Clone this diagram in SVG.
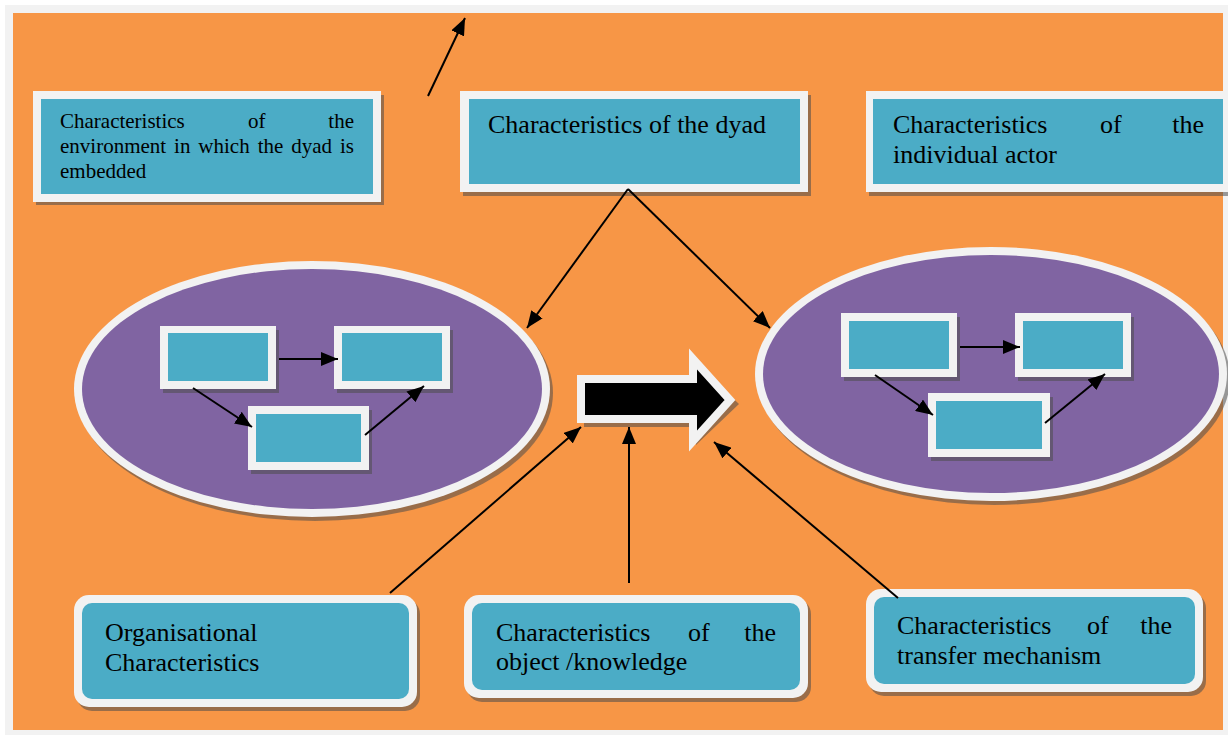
<svg xmlns="http://www.w3.org/2000/svg" width="1228" height="735" viewBox="0 0 1228 735">
<defs>
<marker id="ah" markerUnits="userSpaceOnUse" markerWidth="17" markerHeight="14" refX="17" refY="7" orient="auto">
<path d="M0,0 L17,7 L0,14 Z" fill="#000"/>
</marker>
<style>
.frame{fill:#f2f2f2}
.bg{fill:#f79646}
.sh{fill:#4d4d4d;opacity:0.55}
.wb{fill:#f2f2f2}
.tl{fill:#4bacc6}
.pu{fill:#8064a2}
.t{font-family:"Liberation Serif","Times New Roman",serif;fill:#000}
.c{stroke:#000;stroke-width:2;fill:none;marker-end:url(#ah)}
</style>
</defs>
<rect x="0" y="0" width="1228" height="735" fill="#ffffff"/>
<rect class="frame" x="5" y="5" width="1223" height="730"/>
<rect class="bg" x="13" y="13" width="1210" height="717"/>

<g id="env">
<rect class="sh" x="36" y="95" width="348" height="110"/>
<rect class="wb" x="33" y="91" width="348" height="111"/>
<rect class="tl" x="41" y="99" width="332" height="95"/>
<text class="t" font-size="21" y="128"><tspan x="60">Characteristics</tspan><tspan x="248">of</tspan><tspan x="354" text-anchor="end">the</tspan></text>
<text class="t" font-size="21" x="60" y="153" word-spacing="2.7">environment in which the dyad is</text>
<text class="t" font-size="21" x="60" y="178">embedded</text>
</g>

<g id="dyad">
<rect class="sh" x="463" y="95" width="348" height="101"/>
<rect class="wb" x="460" y="91" width="348" height="101"/>
<rect class="tl" x="469" y="99" width="331" height="85"/>
<text class="t" font-size="26" x="488" y="133">Characteristics of the dyad</text>
</g>

<g id="actor">
<rect class="sh" x="869" y="95" width="362" height="101"/>
<rect class="wb" x="866" y="91" width="362" height="101"/>
<rect class="tl" x="873" y="99" width="350" height="85"/>
<text class="t" font-size="26" y="133"><tspan x="893">Characteristics</tspan><tspan x="1100">of</tspan><tspan x="1204" text-anchor="end">the</tspan></text>
<text class="t" font-size="26" x="893" y="163">individual actor</text>
</g>

<g id="left-ellipse">
<ellipse class="sh" cx="315" cy="393" rx="238" ry="128"/>
<ellipse class="wb" cx="312" cy="389" rx="238" ry="128"/>
<ellipse class="pu" cx="312" cy="389" rx="230" ry="120"/>
<g id="l-a">
<rect class="sh" x="163" y="330" width="116" height="63"/>
<rect class="wb" x="160" y="326" width="116" height="63"/>
<rect class="tl" x="168" y="333" width="100" height="48"/>
</g>
<g id="l-b">
<rect class="sh" x="337" y="330" width="116" height="63"/>
<rect class="wb" x="334" y="326" width="116" height="63"/>
<rect class="tl" x="342" y="333" width="100" height="48"/>
</g>
<g id="l-c">
<rect class="sh" x="251" y="410" width="121" height="64"/>
<rect class="wb" x="248" y="406" width="121" height="64"/>
<rect class="tl" x="256" y="414" width="105" height="48"/>
</g>
</g>

<g id="right-ellipse">
<ellipse class="sh" cx="994" cy="378" rx="236" ry="127"/>
<ellipse class="wb" cx="991" cy="374" rx="236" ry="127"/>
<ellipse class="pu" cx="991" cy="374" rx="228" ry="119"/>
<g id="r-a">
<rect class="sh" x="844" y="317" width="116" height="64"/>
<rect class="wb" x="841" y="313" width="116" height="64"/>
<rect class="tl" x="849" y="321" width="100" height="48"/>
</g>
<g id="r-b">
<rect class="sh" x="1018" y="317" width="116" height="64"/>
<rect class="wb" x="1015" y="313" width="116" height="64"/>
<rect class="tl" x="1023" y="321" width="100" height="48"/>
</g>
<g id="r-c">
<rect class="sh" x="931" y="397" width="122" height="64"/>
<rect class="wb" x="928" y="393" width="122" height="64"/>
<rect class="tl" x="936" y="401" width="106" height="48"/>
</g>
</g>

<g id="big-arrow">
<path d="M584,383 L696,383 L696,363 L739,404 L696,445 L696,427 L584,427 Z" fill="#4d4d4d" opacity="0.55"/>
<path d="M581,379 L693,379 L693,359 L730,400 L693,441 L693,419 L581,419 Z" fill="#000" stroke="#f2f2f2" stroke-width="8" stroke-linejoin="miter"/>
</g>

<g id="org">
<rect class="sh" x="77" y="599" width="343" height="112" rx="15"/>
<rect class="wb" x="74" y="595" width="343" height="112" rx="15"/>
<rect class="tl" x="82" y="603" width="327" height="96" rx="10"/>
<text class="t" font-size="26" x="105" y="641">Organisational</text>
<text class="t" font-size="26" x="105" y="671">Characteristics</text>
</g>

<g id="object">
<rect class="sh" x="467" y="599" width="344" height="103" rx="15"/>
<rect class="wb" x="464" y="595" width="344" height="103" rx="15"/>
<rect class="tl" x="472" y="603" width="328" height="87" rx="10"/>
<text class="t" font-size="26" y="641"><tspan x="496">Characteristics</tspan><tspan x="688">of</tspan><tspan x="776" text-anchor="end">the</tspan></text>
<text class="t" font-size="26" x="496" y="670">object /knowledge</text>
</g>

<g id="transfer">
<rect class="sh" x="869" y="593" width="337" height="103" rx="15"/>
<rect class="wb" x="866" y="589" width="337" height="103" rx="15"/>
<rect class="tl" x="874" y="597" width="321" height="87" rx="10"/>
<text class="t" font-size="26" y="634"><tspan x="897">Characteristics</tspan><tspan x="1087">of</tspan><tspan x="1172" text-anchor="end">the</tspan></text>
<text class="t" font-size="26" x="897" y="664">transfer mechanism</text>
</g>

<g id="connectors">
<line class="c" x1="428" y1="96" x2="465" y2="18"/>
<line class="c" x1="628" y1="189" x2="527" y2="328"/>
<line class="c" x1="628" y1="189" x2="770" y2="328"/>
<line class="c" x1="390" y1="593" x2="581" y2="427"/>
<line class="c" x1="629" y1="583" x2="629" y2="427"/>
<line class="c" x1="898" y1="598" x2="714" y2="442"/>
<line class="c" x1="279" y1="359" x2="338" y2="359"/>
<line class="c" x1="193" y1="388" x2="252" y2="427"/>
<line class="c" x1="365" y1="435" x2="424" y2="386"/>
<line class="c" x1="960" y1="347" x2="1020" y2="347"/>
<line class="c" x1="875" y1="375" x2="933" y2="415"/>
<line class="c" x1="1045" y1="423" x2="1105" y2="374"/>
</g>
</svg>
